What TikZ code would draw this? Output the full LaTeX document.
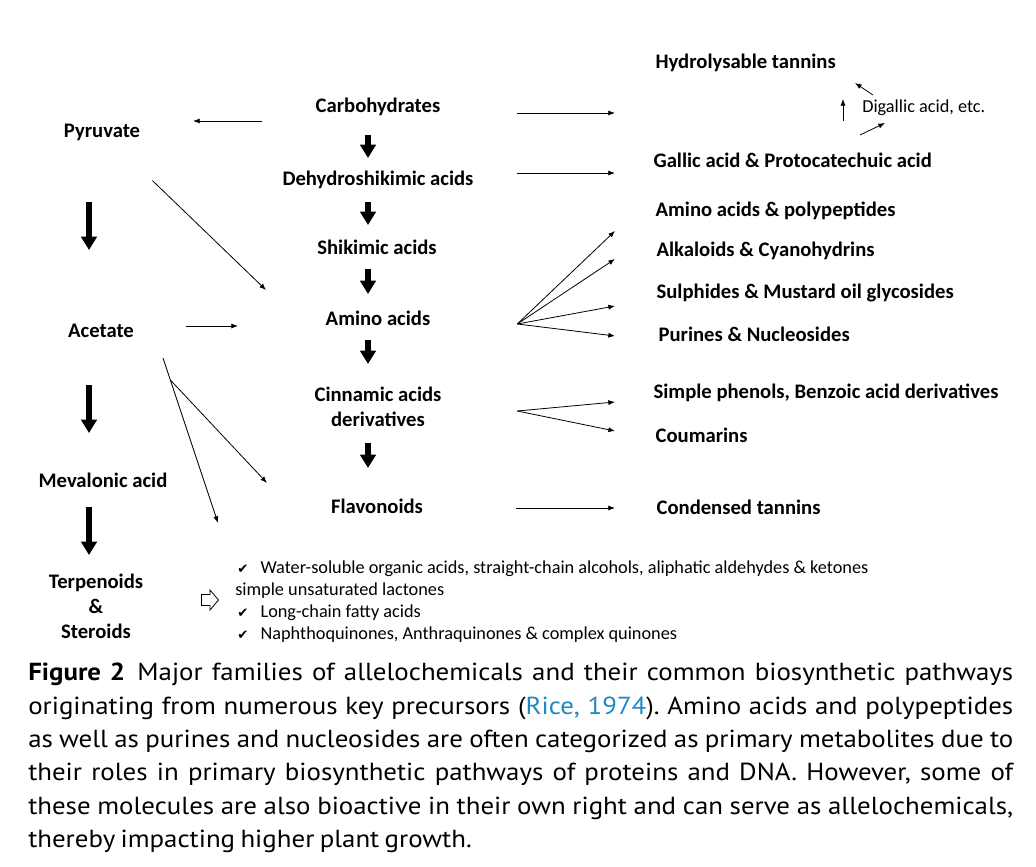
\documentclass[tikz,border=0pt]{standalone}
\usepackage{fontspec}
\setmainfont{Carlito}
\newfontfamily\capfont[FakeStretch=1.09, WordSpace=0.75]{PT Sans}
\newfontfamily\symfont{DejaVu Sans}
\usepackage{xcolor}
\usepackage{tikz}
\usetikzlibrary{arrows.meta,calc}
\definecolor{citeblue}{RGB}{32,135,195}
\frenchspacing
\newcommand{\tick}{\makebox[19pt][l]{\hspace{1.5pt}{\symfont\fontsize{10}{10}\selectfont ✔}}}
\newcommand{\capline}[1]{\makebox[738.75pt][s]{#1}}

\begin{document}
\begin{tikzpicture}[
    x=0.75pt, y=-0.75pt,
    chem/.style={font=\bfseries\fontsize{15.5}{18.75}\selectfont, align=center, inner sep=1pt},
    midchem/.style={chem, minimum width=208.5pt},
    outchem/.style={chem, anchor=west},
    note/.style={font=\fontsize{13.7}{16.5}\selectfont, anchor=west, inner sep=0pt, align=left},
    arrow/.style={-{Latex[length=5pt,width=3.8pt]}, line width=0.6pt},
    bigarrow/.style={-{Triangle[length=10pt,width=11.5pt]}, line width=4.5pt},
    hollow/.style={line width=0.6pt, line join=miter}
]
\useasboundingbox (0,0) rectangle (1036,867);

% Central pathway
\node[midchem] (carbo) at (378,107) {Carbohydrates};
\node[midchem] (dehydro) at (378,180) {Dehydroshikimic acids};
\node[midchem] (shikimic) at (377,247) {Shikimic acids};
\node[midchem] (amino) at (378,318) {Amino acids};
\node[midchem] (cinnamic) at (378,407) {Cinnamic acids\\derivatives};
\node[midchem] (flavo) at (377,506) {Flavonoids};

% Left pathway
\node[chem] (pyruvate) at (102,132) {Pyruvate};
\node[chem] (acetate) at (101,331) {Acetate};
\node[chem] (mevalonic) at (103,480) {Mevalonic acid};
\node[chem] (terpenoids) at (96,606) {Terpenoids\\\&\\Steroids};

% Products
\node[outchem] (hydtannins) at (654,63) {Hydrolysable tannins};
\node[note] (digallic) at (862,108) {Digallic acid, etc.};
\node[outchem] (gallic) at (652,160) {Gallic acid \& Protocatechuic acid};
\node[outchem] (aminopoly) at (654,211) {Amino acids \& polypeptides};
\node[outchem] (alkaloids) at (655,251) {Alkaloids \& Cyanohydrins};
\node[outchem] (sulphides) at (655,293) {Sulphides \& Mustard oil glycosides};
\node[outchem] (purines) at (657,334) {Purines \& Nucleosides};
\node[outchem] (phenols) at (652,393) {Simple phenols, Benzoic acid derivatives};
\node[outchem] (coumarins) at (654,435) {Coumarins};
\node[outchem] (condtannins) at (655,507) {Condensed tannins};

% Acetate products
\coordinate (toward) at (210,600);
\draw[hollow] (toward) ++(-8.5,-5.5) -- ++(8.5,0) -- ++(0,-4.5) -- ++(8.5,10)
    -- ++(-8.5,10) -- ++(0,-4.5) -- ++(-8.5,0) -- cycle;
\node[note] (checks) at (235,602) {\tick Water-soluble organic acids, straight-chain alcohols, aliphatic aldehydes \& ketones\\
simple unsaturated lactones\\
\tick Long-chain fatty acids\\
\tick Naphthoquinones, Anthraquinones \& complex quinones};

% Caption
\node[anchor=north west, inner sep=0pt, align=left,
      font=\capfont\fontsize{18.5}{25}\selectfont] (caption) at (28,663)
  {\capline{\textbf{Figure 2}\enspace Major families of allelochemicals and their common biosynthetic pathways}\\
   \capline{originating from numerous key precursors (\textcolor{citeblue}{Rice, 1974}). Amino acids and polypeptides}\\
   \capline{as well as purines and nucleosides are often categorized as primary metabolites due to}\\
   \capline{their roles in primary biosynthetic pathways of proteins and DNA. However, some of}\\
   \capline{these molecules are also bioactive in their own right and can serve as allelochemicals,}\\
   thereby impacting higher plant growth.};

% Free ends
\coordinate (midcol) at (368,0);
\coordinate (leftcol) at (89,0);
\coordinate (upcol) at (843,0);
\coordinate (pyr-in) at (193,121);
\coordinate (hyd-in) at (615,113);
\coordinate (gal-in) at (615,173);
\coordinate (aa-a) at (615,231);
\coordinate (aa-b) at (615,259);
\coordinate (aa-c) at (615,306);
\coordinate (aa-d) at (615,336);
\coordinate (ci-a) at (615,402);
\coordinate (ci-b) at (615,431);
\coordinate (fl-out) at (615,508);
\coordinate (py-out) at (266,290);
\coordinate (ac-out) at (238,326);
\coordinate (ac-split) at (163,358);
\coordinate (ac-down) at (218,523);
\coordinate (ac-flav) at (267,483);
\coordinate (dg-from) at (873,95);
\coordinate (dg-to) at (855,83);
\coordinate (ga-from) at (860,135);
\coordinate (ga-to) at (885,123);

% Thick arrows
\foreach \a/\b/\s/\e in {carbo/dehydro/21/16.5, dehydro/shikimic/16.5/16.5, shikimic/amino/16.5/18,
    amino/cinnamic/16.5/32.25, cinnamic/flavo/27/28.5}
  \draw[bigarrow, shorten <=\s pt, shorten >=\e pt] (\a.center -| midcol) -- (\b.center -| midcol);
\foreach \a/\b/\s/\e in {pyruvate/acetate/52.5/60.75, acetate/mevalonic/40.5/35.25, mevalonic/terpenoids/20.25/38.25}
  \draw[bigarrow, shorten <=\s pt, shorten >=\e pt] (\a.center -| leftcol) -- (\b.center -| leftcol);

% Arrows
\draw[arrow] ([xshift=17.25pt, yshift=-10.5pt]carbo.west) -- (pyr-in);
\draw[arrow] ([yshift=-4.5pt]carbo.east) -- (hyd-in);
\draw[arrow] ([yshift=5.25pt]dehydro.east) -- (gal-in);
\foreach \t in {aa-a, aa-b, aa-c, aa-d}
  \draw[arrow] ([yshift=-4.5pt]amino.east) -- (\t);
\foreach \t in {ci-a, ci-b}
  \draw[arrow] ([yshift=-3pt]cinnamic.east) -- (\t);
\draw[arrow] ([yshift=-1.5pt]flavo.east) -- (fl-out);
\draw[arrow, shorten <=52.5pt] (pyruvate.center) -- (py-out);
\draw[arrow, shorten <=63.75pt] ([yshift=3.75pt]acetate.center) -- (ac-out);
\draw[arrow] (ac-split) -- (ac-down);
\draw[arrow] ($(ac-split)!0.133!(ac-down)$) -- (ac-flav);
\draw[arrow, shorten <=29.25pt, shorten >=27pt] (gallic.center -| upcol) -- (hydtannins.center -| upcol);
\draw[arrow] (dg-from) -- (dg-to);
\draw[arrow] (ga-from) -- (ga-to);

\end{tikzpicture}
\end{document}
